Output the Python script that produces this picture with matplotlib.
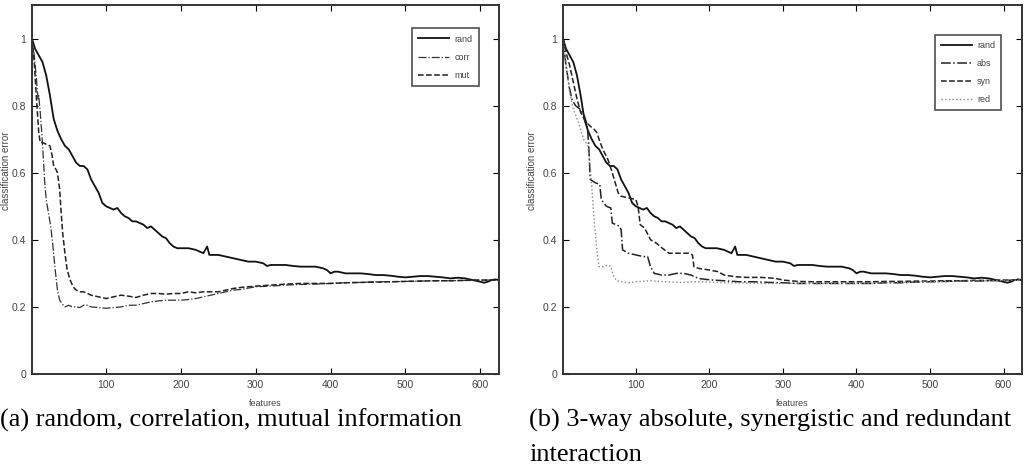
import numpy as np
import matplotlib
matplotlib.use("Agg")
import matplotlib.pyplot as plt

# random ordering (same curve in both panels)
x_rand = [1, 5, 10, 15, 20, 25, 30, 35, 40, 45,
          50, 55, 60, 65, 70, 75, 80, 85, 90, 95,
          100, 105, 110, 115, 120, 125, 130, 135, 140, 145,
          150, 155, 160, 165, 170, 175, 180, 185, 190, 195,
          200, 210, 220, 225, 230, 235, 238, 242, 250, 260,
          270, 280, 290, 300, 310, 315, 320, 330, 340, 350,
          360, 370, 380, 390, 395, 400, 405, 410, 420, 430,
          440, 450, 460, 470, 480, 490, 500, 510, 520, 530,
          540, 550, 560, 570, 580, 590, 600, 605, 610, 615,
          620, 625]
y_rand = [1.00, 0.97, 0.95, 0.93, 0.89, 0.83, 0.76, 0.725, 0.70, 0.68,
          0.67, 0.65, 0.63, 0.62, 0.62, 0.61, 0.58, 0.56, 0.54, 0.51,
          0.50, 0.495, 0.49, 0.495, 0.48, 0.47, 0.465, 0.455, 0.455, 0.45,
          0.445, 0.435, 0.44, 0.43, 0.42, 0.41, 0.405, 0.39, 0.38, 0.375,
          0.375, 0.375, 0.37, 0.365, 0.36, 0.38, 0.355, 0.355, 0.355, 0.35,
          0.345, 0.34, 0.335, 0.335, 0.33, 0.322, 0.325, 0.325, 0.325, 0.322,
          0.32, 0.32, 0.32, 0.315, 0.31, 0.30, 0.305, 0.305, 0.30, 0.30,
          0.30, 0.298, 0.295, 0.295, 0.293, 0.29, 0.288, 0.29, 0.292, 0.292,
          0.29, 0.288, 0.285, 0.287, 0.285, 0.28, 0.275, 0.272, 0.275, 0.28,
          0.282, 0.28]

# (a) correlation
x_corr = [1, 4, 7, 9, 10, 12, 14, 16, 18, 20,
          23, 26, 29, 32, 35, 38, 41, 45, 50, 55,
          60, 65, 70, 75, 80, 90, 100, 110, 120, 130,
          140, 150, 160, 170, 180, 190, 200, 210, 220, 230,
          240, 250, 260, 270, 280, 290, 300, 320, 340, 360,
          380, 400, 420, 440, 460, 480, 500, 520, 540, 560,
          580, 600, 625]
y_corr = [1.00, 0.95, 0.88, 0.82, 0.83, 0.78, 0.72, 0.65, 0.57, 0.52,
          0.48, 0.44, 0.38, 0.31, 0.25, 0.22, 0.21, 0.20, 0.205, 0.20,
          0.20, 0.198, 0.205, 0.205, 0.20, 0.198, 0.196, 0.198, 0.20, 0.205,
          0.205, 0.21, 0.215, 0.218, 0.22, 0.22, 0.22, 0.222, 0.225, 0.23,
          0.235, 0.24, 0.245, 0.25, 0.252, 0.256, 0.26, 0.262, 0.265, 0.267,
          0.268, 0.27, 0.272, 0.273, 0.275, 0.275, 0.276, 0.277, 0.278, 0.278,
          0.279, 0.28, 0.28]

# (a) mutual information
x_mut = [1, 4, 7, 10, 12, 15, 20, 25, 28, 30,
         33, 35, 38, 40, 42, 45, 48, 52, 56, 60,
         65, 70, 80, 90, 100, 110, 120, 130, 140, 150,
         160, 170, 180, 190, 200, 210, 220, 230, 240, 250,
         260, 270, 280, 290, 300, 320, 340, 360, 380, 400,
         420, 440, 460, 480, 500, 520, 540, 560, 580, 600,
         625]
y_mut = [1.00, 0.93, 0.82, 0.72, 0.69, 0.69, 0.685, 0.68, 0.65, 0.62,
         0.61, 0.60, 0.55, 0.48, 0.42, 0.36, 0.31, 0.28, 0.26, 0.25,
         0.245, 0.245, 0.235, 0.23, 0.225, 0.23, 0.235, 0.232, 0.228, 0.235,
         0.24, 0.24, 0.238, 0.24, 0.24, 0.245, 0.242, 0.245, 0.245, 0.245,
         0.25, 0.255, 0.258, 0.26, 0.262, 0.265, 0.268, 0.27, 0.27, 0.27,
         0.272, 0.273, 0.274, 0.275, 0.276, 0.277, 0.278, 0.278, 0.279, 0.28,
         0.28]

# (b) 3-way absolute interaction
x_abs = [1, 5, 10, 13, 18, 24, 30, 34, 36, 38,
         45, 51, 53, 60, 66, 68, 78, 80, 82, 90,
         100, 110, 116, 120, 125, 135, 145, 155, 165, 175,
         185, 195, 205, 220, 240, 260, 280, 300, 320, 340,
         360, 380, 400, 420, 440, 460, 480, 500, 520, 540,
         560, 580, 600, 625]
y_abs = [1.00, 0.92, 0.85, 0.82, 0.80, 0.79, 0.77, 0.74, 0.68, 0.58,
         0.57, 0.565, 0.52, 0.50, 0.495, 0.45, 0.44, 0.43, 0.37, 0.36,
         0.355, 0.35, 0.35, 0.32, 0.30, 0.295, 0.295, 0.30, 0.30, 0.295,
         0.285, 0.282, 0.28, 0.278, 0.275, 0.275, 0.273, 0.272, 0.27, 0.27,
         0.27, 0.27, 0.27, 0.27, 0.272, 0.272, 0.274, 0.275, 0.276, 0.277,
         0.277, 0.278, 0.279, 0.28]

# (b) synergistic
x_syn = [1, 5, 10, 15, 20, 25, 30, 35, 40, 43,
         47, 50, 55, 62, 68, 72, 76, 80, 90, 100,
         103, 106, 112, 120, 128, 136, 145, 160, 172, 177,
         179, 185, 200, 212, 220, 235, 250, 270, 290, 300,
         320, 340, 360, 380, 400, 420, 440, 460, 480, 500,
         520, 540, 560, 580, 600, 625]
y_syn = [1.00, 0.96, 0.92, 0.87, 0.82, 0.78, 0.76, 0.745, 0.735, 0.73,
         0.72, 0.70, 0.67, 0.64, 0.60, 0.57, 0.54, 0.53, 0.525, 0.52,
         0.50, 0.445, 0.435, 0.40, 0.39, 0.375, 0.36, 0.36, 0.36, 0.355,
         0.32, 0.315, 0.31, 0.305, 0.295, 0.29, 0.288, 0.288, 0.285, 0.28,
         0.276, 0.275, 0.275, 0.275, 0.275, 0.275, 0.276, 0.276, 0.277, 0.277,
         0.278, 0.278, 0.279, 0.279, 0.28, 0.28]

# (b) redundant
x_red = [1, 5, 10, 15, 22, 29, 35, 38, 41, 44,
         47, 50, 55, 62, 66, 70, 74, 80, 90, 100,
         120, 140, 160, 180, 200, 220, 240, 260, 280, 300,
         305, 340, 400, 500, 625]
y_red = [1.00, 0.93, 0.84, 0.79, 0.75, 0.70, 0.68, 0.62, 0.53, 0.44,
         0.37, 0.32, 0.32, 0.325, 0.32, 0.29, 0.278, 0.275, 0.272, 0.275,
         0.278, 0.275, 0.273, 0.275, 0.274, 0.272, 0.272, 0.27, 0.27, 0.27,
         0.27, 0.27, 0.27, 0.275, 0.28]

plt.rcParams['font.family'] = ['Liberation Sans', 'DejaVu Sans']

fig = plt.figure(figsize=(10.31, 4.70), dpi=100)
ax1 = fig.add_axes([32/1031, 1-374/470, 467/1031, 369/470])
ax2 = fig.add_axes([563/1031, 1-374/470, 459/1031, 369/470])

ax1.plot(x_rand, y_rand, '-', color='#111111', lw=1.3, label='rand')
ax1.plot(x_corr, y_corr, '-.', color='#333333', lw=0.9, label='corr')
ax1.plot(x_mut, y_mut, '--', color='#222222', lw=1.1, label='mut')

ax2.plot(x_rand, y_rand, '-', color='#111111', lw=1.3, label='rand')
ax2.plot(x_abs, y_abs, '-.', color='#222222', lw=1.1, label='abs')
ax2.plot(x_syn, y_syn, '--', color='#222222', lw=1.1, label='syn')
ax2.plot(x_red, y_red, ':', color='#888888', lw=1.0, label='red')

legpos = {ax1: (0.966, 0.949), ax2: (0.965, 0.932)}
for ax in (ax1, ax2):
    ax.set_xlim(1, 625)
    ax.set_ylim(0, 1.1)
    ax.set_xticks([100, 200, 300, 400, 500, 600])
    ax.set_yticks([0, 0.2, 0.4, 0.6, 0.8, 1.0])
    ax.set_yticklabels(['0', '0.2', '0.4', '0.6', '0.8', '1'])
    ax.tick_params(direction='in', length=4, width=0.8, top=True, right=True,
                   labelsize=7.5, labelcolor='#444444', pad=4)
    for s in ax.spines.values():
        s.set_linewidth(1.4)
        s.set_color('#333333')
    ax.set_xlabel('features', fontsize=6.5, color='#444444', labelpad=7)
    ax.set_ylabel('classification error', fontsize=7, color='#444444')
    leg = ax.legend(loc='upper right', bbox_to_anchor=legpos[ax], fontsize=6.5,
                    frameon=True, fancybox=False, edgecolor='#222222',
                    handlelength=3.4, labelspacing=1.0, borderpad=0.7,
                    handletextpad=0.6, labelcolor='#444444')
    leg.get_frame().set_linewidth(1.2)

ax1.yaxis.set_label_coords(-0.044, 0.55)
ax2.yaxis.set_label_coords(-0.056, 0.55)

serif = ['Liberation Serif', 'DejaVu Serif']
fig.text(0.0, 1-420/470, '(a) random, correlation, mutual information',
         family=serif, fontsize=19, va='center', ha='left')
fig.text(529/1031, 1-420/470, '(b) 3-way absolute, synergistic and redundant',
         family=serif, fontsize=19, va='center', ha='left')
fig.text(529/1031, 1-455/470, 'interaction',
         family=serif, fontsize=19, va='center', ha='left')

fig.savefig('out.png', dpi=100)
